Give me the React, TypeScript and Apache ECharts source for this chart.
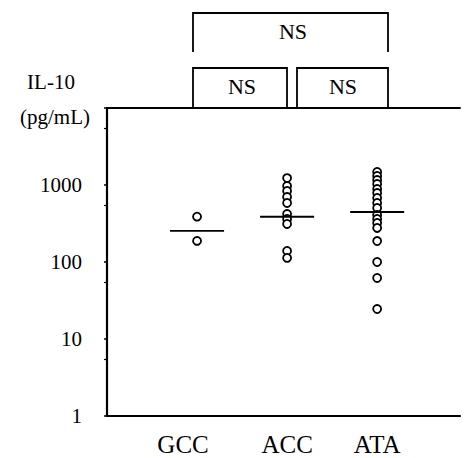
import React, { useEffect, useRef } from "react";
import * as echarts from "echarts";

const categories = ["GCC", "ACC", "ATA"];
const gccValues = [388, 188];
const accValues = [1230, 970, 836, 698, 584, 420, 362, 312, 139, 113];
const ataValues = [1475, 1309, 1161, 1030, 887, 787, 678, 584, 503, 408, 362, 321, 277, 187, 100, 62, 24.5];
const medians = [253, 387, 446];
const yTicks = [1, 10, 100, 1000];
const comparisonLabels = ["NS", "NS", "NS"];

const FONT = "'Liberation Serif', 'Times New Roman', serif";
const INK = "#000";

export default function App() {
  const ref = useRef<HTMLDivElement>(null);
  useEffect(() => {
    if (!ref.current) return;
    const chart = echarts.init(ref.current, undefined, { renderer: "svg" });
    const groups = [gccValues, accValues, ataValues];
    const points: number[][] = [];
    groups.forEach((vals, gi) => vals.forEach((v) => points.push([gi + 1, v])));
    const medianData = medians.map((m, i) => [i + 1, m]);

    const bracket = (x1: number, x2: number, yTop: number, yBot: number) => ({
      type: "polyline",
      shape: { points: [[x1, yBot], [x1, yTop], [x2, yTop], [x2, yBot]] },
      style: { stroke: INK, lineWidth: 1.8, fill: null },
    });
    const nsText = (x: number, y: number, t: string) => ({
      type: "text",
      x,
      y,
      style: { text: t, font: `22px ${FONT}`, fill: INK, textAlign: "center", textVerticalAlign: "middle" },
    });

    chart.setOption({
      animation: false,
      backgroundColor: "#fff",
      grid: { left: 107, right: 6, top: 108, bottom: 42 },
      xAxis: [
        {
          type: "value",
          min: 0,
          max: 3.92,
          interval: 1,
          axisLine: { show: true, lineStyle: { color: INK, width: 2.2 } },
          axisTick: { show: false },
          splitLine: { show: false },
          axisLabel: {
            margin: 16,
            fontFamily: FONT,
            fontSize: 25,
            color: INK,
            formatter: (v: number) => {
              const c = categories[v - 1];
              if (!c) return "";
              return v === 1 ? `{g|${c}}` : c;
            },
            rich: { g: { fontFamily: FONT, fontSize: 25, color: INK, padding: [0, 28, 0, 0] } },
          },
        },
        {
          type: "value",
          position: "top",
          min: 0,
          max: 3.92,
          axisLine: { show: true, lineStyle: { color: INK, width: 1.8 } },
          axisTick: { show: false },
          axisLabel: { show: false },
          splitLine: { show: false },
        },
      ],
      yAxis: {
        type: "log",
        logBase: 10,
        min: 1,
        max: 10000,
        axisLine: { show: true, lineStyle: { color: INK, width: 2.2 } },
        axisTick: { show: true, length: 3, lineStyle: { color: INK, width: 1.5 } },
        minorTick: { show: true, splitNumber: 2, length: 3, lineStyle: { color: INK, width: 1.2 } },
        splitLine: { show: false },
        axisLabel: {
          margin: 25,
          fontFamily: FONT,
          fontSize: 21,
          color: INK,
          padding: [6, 0, 0, 0],
          formatter: (v: number) => (yTicks.includes(v) ? String(v) : ""),
        },
      },
      series: [
        {
          type: "scatter",
          data: points,
          symbol: "circle",
          symbolSize: 8,
          itemStyle: { color: "#fff", borderColor: INK, borderWidth: 1.8, opacity: 1 },
          z: 3,
        },
        {
          type: "custom",
          data: medianData,
          z: 4,
          renderItem: (params: any, api: any) => {
            const x = api.value(0);
            const m = api.value(1);
            const p1 = api.coord([x - 0.3, m]);
            const p2 = api.coord([x + 0.3, m]);
            return {
              type: "line",
              shape: { x1: p1[0], y1: p1[1], x2: p2[0], y2: p2[1] },
              style: { stroke: INK, lineWidth: 1.8 },
            };
          },
        },
      ],
      graphic: [
        bracket(193, 388, 13, 52),
        bracket(193, 287, 68, 107),
        bracket(297, 388, 68, 107),
        nsText(293, 31, comparisonLabels[0]),
        nsText(242, 86, comparisonLabels[1]),
        nsText(343, 86, comparisonLabels[2]),
        {
          type: "text",
          x: 51,
          y: 82,
          style: { text: "IL-10", font: `21px ${FONT}`, fill: INK, textAlign: "center", textVerticalAlign: "middle" },
        },
        {
          type: "text",
          x: 55,
          y: 117,
          style: { text: "(pg/mL)", font: `21px ${FONT}`, fill: INK, textAlign: "center", textVerticalAlign: "middle" },
        },
      ],
    });
    return () => chart.dispose();
  }, []);
  return <div ref={ref} style={{ position: "fixed", left: 0, top: 0, width: 466, height: 458 }} />;
}
